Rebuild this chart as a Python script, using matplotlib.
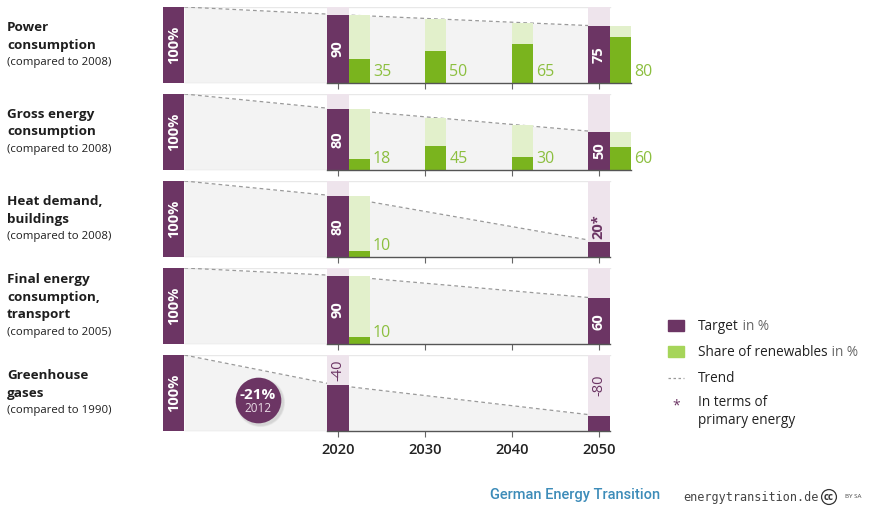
import matplotlib.pyplot as plt

plt.rcParams['font.family'] = ['Open Sans', 'DejaVu Sans']

# panel titles (bold lines) and reference year
titles = [["Power", "consumption"],
          ["Gross energy", "consumption"],
          ["Heat demand,", "buildings"],
          ["Final energy", "consumption,", "transport"],
          ["Greenhouse", "gases"]]
base_years = ["2008", "2008", "2008", "2005", "1990"]

years = [2020, 2030, 2040, 2050]
target_2020 = [90, 80, 80, 90, -40]
target_2050 = [75, 50, 20, 60, -80]
target_note = ["", "", "*", "", ""]

# share of renewables in % (None = no target)
renew_share = [[35, 50, 65, 80],
               [18, 45, 30, 60],
               [10, None, None, None],
               [10, None, None, None],
               [None, None, None, None]]
# height of the renewables column (level of the trend)
renew_level = [[90, 84, 79, 75],
               [80, 69, 59, 50],
               [80, None, None, None],
               [90, None, None, None],
               [None, None, None, None]]

ghg_2012 = -21

PURPLE = '#6c3564'
LILAC = '#eee4ec'
LIGHT_GREEN = '#e2f0cb'
GREEN = '#7ab41e'
GREEN_TXT = '#8cbf3f'
TXT = '#1e1e1e'

W, H = 870, 508
PX_YEAR = 8.7
X0 = 1999.9
BW = 2.45


def fx(x):
    return x / W


def fy(y):
    return 1 - y / H


fig = plt.figure(figsize=(W / 100, H / 100), dpi=100)

for i in range(5):
    top = 7 + 87 * i
    bottom = top + 76
    ax = fig.add_axes([fx(163), fy(bottom), (660 - 163) / W, 76 / H])
    ax.set_xlim(X0, X0 + (660 - 163) / PX_YEAR)
    ax.set_ylim(0, 100)
    for s in ax.spines.values():
        s.set_visible(False)
    ax.set_yticks([])
    ax.set_xticks(years)
    ax.tick_params(axis='x', length=4, width=0.8, color='#666', pad=5,
                   labelsize=10.5, labelcolor='#222', labelbottom=(i == 4))
    if i == 4:
        for lab in ax.get_xticklabels():
            lab.set_fontweight('semibold')

    t20, t50 = target_2020[i], target_2050[i]
    reduction = t20 < 0
    h20 = 100 + t20 if reduction else t20
    h50 = 100 + t50 if reduction else t50

    # shaded area under the trend, panel frame
    ax.fill_between([X0 + BW, 2020, 2050], [100, h20, h50], 0,
                    color='#f3f3f3', lw=0, zorder=0)
    ax.plot([X0, 2050 + BW / 2], [100, 100], color='#e8e8e8', lw=1, zorder=0)
    ax.plot([X0, 2020 - BW / 2], [0, 0], color='#e2e2e2', lw=1, zorder=0)

    # trend
    ax.plot([X0 + BW, 2020], [100, h20], color='#9a9a9a', lw=0.9,
            ls=(0, (3, 2.5)), zorder=1)
    ax.plot([2020, 2050], [h20, h50], color='#9a9a9a', lw=0.9,
            ls=(0, (3, 2.5)), zorder=1)

    # starting level 100%
    ax.bar(X0, 100, width=BW, align='edge', color=PURPLE, zorder=2)
    ax.text(X0 + BW / 2, 50, "100%", rotation=90, ha='center', va='center',
            color='white', fontsize=10.5, fontweight='bold', zorder=4)

    # targets
    for yr, t, h in [(2020, t20, h20), (2050, t50, h50)]:
        ax.bar(yr, 100, width=BW, color=LILAC, zorder=2)
        ax.bar(yr, h, width=BW, color=PURPLE, zorder=2)
        label = f"{t}{target_note[i] if yr == 2050 else ''}"
        if reduction:
            ax.text(yr, (h + 100) / 2, label, rotation=90, ha='center',
                    va='center', color=PURPLE, fontsize=10.5, zorder=4)
        elif h < 40:
            ax.text(yr, h + 4, label, rotation=90, ha='center', va='bottom',
                    color=PURPLE, fontsize=10.5, fontweight='bold', zorder=4)
        else:
            ax.text(yr, h / 2, label, rotation=90, ha='center', va='center',
                    color='white', fontsize=10.5, fontweight='bold', zorder=4)

    # renewables
    right = 2050 + BW / 2
    for yr, share, lvl in zip(years, renew_share[i], renew_level[i]):
        if share is None:
            continue
        left = yr + BW / 2 if yr in (2020, 2050) else yr
        ax.bar(left, lvl, width=BW, align='edge', color=LIGHT_GREEN, zorder=2)
        ax.bar(left, lvl * share / 100, width=BW, align='edge', color=GREEN,
               zorder=3)
        ax.text(left + BW + 0.35, 4, str(share), ha='left', va='bottom',
                color=GREEN_TXT, fontsize=11.5, zorder=4)
        right = max(right, left + BW)
    ax.plot([2020 - BW / 2, right], [0, 0], color='#555', lw=1, zorder=3,
            clip_on=False)

    if reduction:
        for k, a in enumerate([0.08, 0.08, 0.1]):
            ax.scatter([2011.0], [38.5], s=1250 - 60 * k, color='#777',
                       alpha=a, lw=0, zorder=4)
        ax.scatter([2010.8], [41], s=1080, color=PURPLE, lw=0, zorder=5)
        ax.text(2010.8, 48, f"{ghg_2012}%", ha='center', va='center',
                color='white', fontsize=11, fontweight='bold', zorder=6)
        ax.text(2010.8, 29, "2012", ha='center', va='center',
                color='#e9dce6', fontsize=8.5, zorder=6)

    # titles on the left
    n = len(titles[i]) + 1
    cy = (top + bottom) / 2
    for k, line in enumerate(titles[i] + [f"(compared to {base_years[i]})"]):
        y = cy + (k - (n - 1) / 2) * 17.5
        bold = k < len(titles[i])
        fig.text(fx(7), fy(y), line, ha='left', va='center', color=TXT,
                 fontsize=9.7 if bold else 8.2,
                 fontweight='bold' if bold else 'normal')

# legend
r = fig.canvas.get_renderer()
fig.patches.append(plt.Rectangle((fx(668), fy(331)), 16 / W, 11 / H,
                                 transform=fig.transFigure, color=PURPLE))
fig.patches.append(plt.Rectangle((fx(668), fy(357)), 16 / W, 11 / H,
                                 transform=fig.transFigure, color='#a6d55a'))
fig.lines.append(plt.Line2D([fx(668), fx(684)], [fy(378), fy(378)],
                            transform=fig.transFigure, color='#9a9a9a',
                            lw=0.9, ls=(0, (2, 2))))
fig.text(fx(676), fy(406), "*", ha='center', va='center', color=PURPLE,
         fontsize=10)
for y, main, extra in [(326, "Target", " in %"),
                       (352, "Share of renewables", " in %"),
                       (378, "Trend", ""),
                       (403, "In terms of", ""),
                       (421, "primary energy", "")]:
    t = fig.text(fx(698), fy(y), main, ha='left', va='center', color='#222',
                 fontsize=9.8)
    if extra:
        bb = t.get_window_extent(renderer=r)
        fig.text(bb.x1 / W, fy(y), extra, ha='left', va='center',
                 color='#666', fontsize=9.8)

# footer
fig.text(fx(490), fy(495), "German Energy Transition", ha='left', va='center',
         color='#3d8cb9', fontsize=10.5, family='Roboto', fontweight='medium')
fig.text(fx(683), fy(497), "energytransition.de", ha='left', va='center',
         color='#444', fontsize=8.5, family='DejaVu Sans Mono')
fig.text(fx(829), fy(497), "cc", ha='center', va='center', color='#333',
         fontsize=7, fontweight='bold',
         bbox=dict(boxstyle='circle,pad=0.2', fc='white', ec='#333', lw=0.9))
fig.text(fx(845), fy(497), "BY SA", ha='left', va='center', color='#444',
         fontsize=4.5)

fig.savefig("out.png", dpi=100)
